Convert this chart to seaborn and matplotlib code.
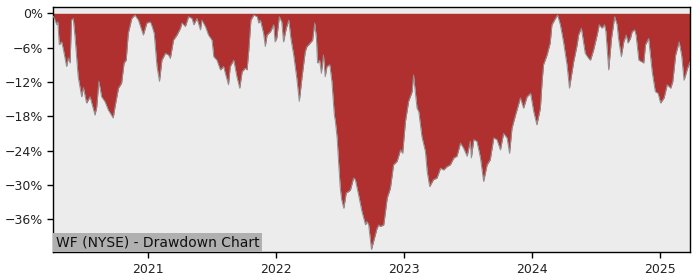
import matplotlib
matplotlib.use("Agg")
import matplotlib.pyplot as plt
import matplotlib.dates as mdates
import matplotlib.ticker as mticker
import seaborn as sns
import pandas as pd

ticker_label = "WF (NYSE) - Drawdown Chart"

dates = [
    "2020-04-06", "2020-04-09", "2020-04-16", "2020-04-19", "2020-04-23", "2020-04-30",
    "2020-05-05", "2020-05-14", "2020-05-19", "2020-05-24", "2020-05-28", "2020-06-02",
    "2020-06-07", "2020-06-16", "2020-06-26", "2020-07-01", "2020-07-10", "2020-07-20",
    "2020-08-03", "2020-08-08", "2020-08-14", "2020-08-22", "2020-09-01", "2020-09-10",
    "2020-09-24", "2020-09-29", "2020-10-09", "2020-10-18", "2020-10-25", "2020-10-31",
    "2020-11-06", "2020-11-16", "2020-11-25", "2020-12-05", "2020-12-14", "2020-12-19",
    "2020-12-29",
    "2021-01-08", "2021-01-13", "2021-01-19", "2021-01-27", "2021-02-03", "2021-02-10",
    "2021-02-20", "2021-03-01", "2021-03-06", "2021-03-15", "2021-03-25", "2021-04-04",
    "2021-04-08", "2021-04-18", "2021-04-27", "2021-05-07", "2021-05-12", "2021-05-21",
    "2021-05-31", "2021-06-04", "2021-06-14", "2021-06-23", "2021-07-03", "2021-07-08",
    "2021-07-17", "2021-07-27", "2021-08-05", "2021-08-10", "2021-08-19", "2021-08-24",
    "2021-09-03", "2021-09-12", "2021-09-20", "2021-09-27", "2021-10-06", "2021-10-11",
    "2021-10-16", "2021-10-22", "2021-10-30", "2021-11-09", "2021-11-13", "2021-11-18",
    "2021-11-27", "2021-12-02", "2021-12-07", "2021-12-17", "2021-12-26", "2021-12-30",
    "2022-01-04", "2022-01-11", "2022-01-18", "2022-01-23", "2022-01-31", "2022-02-07",
    "2022-02-13", "2022-02-21", "2022-03-02", "2022-03-09", "2022-03-17", "2022-03-26",
    "2022-03-31", "2022-04-05", "2022-04-09", "2022-04-16", "2022-04-22", "2022-04-27",
    "2022-04-30", "2022-05-06", "2022-05-11", "2022-05-17", "2022-05-22", "2022-05-27",
    "2022-06-04", "2022-06-10", "2022-06-17", "2022-06-20", "2022-06-25", "2022-06-29",
    "2022-07-04", "2022-07-08", "2022-07-14", "2022-07-21", "2022-07-27", "2022-08-02",
    "2022-08-11", "2022-08-16", "2022-08-25", "2022-09-04", "2022-09-14", "2022-09-18",
    "2022-09-23", "2022-10-01", "2022-10-07", "2022-10-17", "2022-10-22", "2022-10-26",
    "2022-11-05", "2022-11-10", "2022-11-15", "2022-11-24", "2022-12-03", "2022-12-13",
    "2022-12-23", "2022-12-29",
    "2023-01-06", "2023-01-15", "2023-01-25", "2023-01-29", "2023-02-03", "2023-02-08",
    "2023-02-13", "2023-02-22", "2023-03-04", "2023-03-09", "2023-03-16", "2023-03-27",
    "2023-04-06", "2023-04-16", "2023-04-25", "2023-05-05", "2023-05-14", "2023-05-24",
    "2023-06-02", "2023-06-12", "2023-06-21", "2023-07-01", "2023-07-10", "2023-07-13",
    "2023-07-20", "2023-07-29", "2023-08-08", "2023-08-17", "2023-08-27", "2023-09-05",
    "2023-09-15", "2023-09-24", "2023-10-04", "2023-10-13", "2023-10-23", "2023-10-30",
    "2023-11-06", "2023-11-16", "2023-11-30", "2023-12-09", "2023-12-19", "2023-12-29",
    "2024-01-07", "2024-01-16", "2024-01-26", "2024-01-31", "2024-02-04", "2024-02-14",
    "2024-02-23", "2024-02-28", "2024-03-09", "2024-03-15", "2024-03-23", "2024-04-01",
    "2024-04-11", "2024-04-18", "2024-04-30", "2024-05-10", "2024-05-14", "2024-05-22",
    "2024-05-28", "2024-06-02", "2024-06-12", "2024-06-17", "2024-06-26", "2024-07-06",
    "2024-07-12", "2024-07-20", "2024-07-27", "2024-07-31", "2024-08-08", "2024-08-16",
    "2024-08-25", "2024-09-01", "2024-09-05", "2024-09-13", "2024-09-20", "2024-09-27",
    "2024-10-02", "2024-10-09", "2024-10-14", "2024-10-21", "2024-10-25", "2024-11-02",
    "2024-11-11", "2024-11-16", "2024-11-21", "2024-11-30", "2024-12-05", "2024-12-10",
    "2024-12-19", "2024-12-27",
    "2025-01-03", "2025-01-13", "2025-01-22", "2025-02-01", "2025-02-07", "2025-02-15",
    "2025-02-25", "2025-03-04", "2025-03-11", "2025-03-21", "2025-03-28",
]

drawdown_pct = [
    -0.5, -0.9, -2.0, -1.5, -5.5, -5.0,
    -6.4, -9.3, -7.8, -8.7, -1.2, -0.9,
    -4.1, -11.1, -14.6, -13.0, -15.7, -14.6,
    -17.8, -16.4, -11.9, -14.6, -15.5, -16.9,
    -18.3, -16.4, -13.1, -12.2, -8.7, -8.2,
    -3.5, -0.9, -0.3, -1.2, -2.9, -3.8,
    -1.7,
    -1.5, -2.3, -3.5, -9.3, -11.9, -8.2,
    -7.0, -7.3, -7.9, -4.7, -3.8, -2.6,
    -1.7, -2.3, -0.6, -0.9, -2.0, -0.9,
    -2.9, -1.2, -2.3, -3.8, -4.7, -7.6,
    -8.2, -9.9, -9.3, -10.5, -12.5, -9.3,
    -8.2, -11.1, -13.1, -10.2, -9.6, -9.9,
    -6.4, -1.2, -0.3, -0.6, -1.7, -1.2,
    -3.5, -5.8, -3.8, -3.2, -2.0, -5.0,
    -4.3, -0.6, -1.5, -5.0, -2.6, -1.2,
    -4.4, -7.3, -11.4, -15.4, -11.1, -6.7,
    -5.8, -5.5, -5.2, -4.7, -1.7, -4.4,
    -8.7, -8.2, -10.5, -7.3, -11.1, -9.3,
    -9.0, -11.9, -17.8, -18.9, -21.8, -25.9,
    -30.6, -32.6, -34.1, -31.4, -31.2, -30.9,
    -28.8, -29.1, -31.7, -34.7, -37.0, -36.4,
    -37.0, -41.3, -39.9, -37.6, -37.0, -37.3,
    -37.0, -34.7, -32.3, -30.6, -26.5, -25.9,
    -23.9, -24.5,
    -18.9, -15.4, -13.7, -10.8, -13.7, -16.6,
    -17.2, -21.6, -24.2, -27.7, -30.3, -29.1,
    -28.8, -27.1, -27.4, -26.8, -26.5, -25.3,
    -25.0, -22.7, -23.6, -25.0, -22.4, -25.3,
    -22.1, -22.4, -25.3, -29.4, -26.5, -25.6,
    -21.8, -22.1, -23.9, -21.0, -21.8, -24.5,
    -20.1, -17.8, -14.8, -16.6, -14.6, -14.0,
    -17.2, -19.5, -16.6, -11.9, -9.0, -7.3,
    -5.2, -2.0, -0.9, -0.3, -2.0, -5.0,
    -9.0, -13.1, -8.5, -5.5, -3.8, -2.6,
    -5.0, -7.0, -7.9, -8.2, -6.4, -3.8,
    -2.0, -2.6, -2.0, -3.2, -9.9, -4.4,
    -0.6, -2.0, -4.4, -7.6, -5.0, -3.8,
    -5.2, -4.4, -3.2, -2.9, -3.8, -8.2,
    -8.5, -8.7, -5.5, -4.4, -7.3, -10.2,
    -13.7, -14.0,
    -15.7, -14.8, -12.5, -13.1, -11.9, -7.3,
    -5.0, -7.3, -11.7, -9.6, -8.5,
]

y_ticks = [0, -6, -12, -18, -24, -30, -36]

df = pd.DataFrame({"date": pd.to_datetime(dates), "dd": drawdown_pct})

sns.set_style("white")
plt.rcParams["font.family"] = ["DejaVu Sans"]

fig = plt.figure(figsize=(7, 2.8), dpi=100)
ax = fig.add_axes([0.0761, 0.099, 0.9096, 0.875])
ax.set_facecolor("#ececec")

ax.fill_between(df["date"], df["dd"], 0, color="#b03030", linewidth=0, zorder=2)
sns.lineplot(data=df, x="date", y="dd", ax=ax, color="#909090", linewidth=0.7, zorder=3)

ax.set_xlim(df["date"].iloc[0], df["date"].iloc[-1])
ax.set_ylim(-41.8, 1.05)
ax.set_yticks(y_ticks)
ax.yaxis.set_major_formatter(mticker.FuncFormatter(
    lambda v, p: f"{v:.0f}%".replace("-", "\u2212")))
ax.xaxis.set_major_locator(mdates.YearLocator())
ax.xaxis.set_major_formatter(mdates.DateFormatter("%Y"))
ax.set_xlabel("")
ax.set_ylabel("")
ax.tick_params(axis="both", which="major", length=4, width=1, color="black",
               labelsize=9, labelcolor="#222222", direction="out")
ax.tick_params(left=True, bottom=True)
for s in ax.spines.values():
    s.set_visible(True)
    s.set_color("black")
    s.set_linewidth(1.0)

ax.text(0.004, 0.012, ticker_label, transform=ax.transAxes, fontsize=10,
        color="#111111", ha="left", va="bottom", zorder=5,
        bbox=dict(boxstyle="square,pad=0.2", facecolor="#b0b0b0",
                  edgecolor="none"))

fig.savefig("out.png", dpi=100)
